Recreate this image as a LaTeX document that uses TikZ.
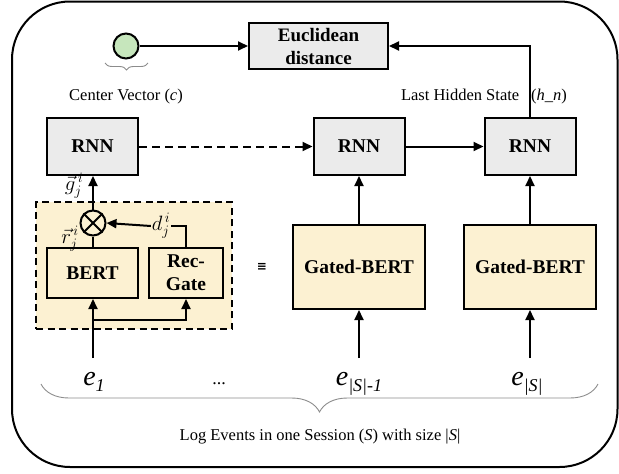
\documentclass[tikz,border=0pt]{standalone}
\usepackage{fontspec}
\setmainfont{Liberation Serif}
\newfontfamily\symbolfont{DejaVu Sans}
\usetikzlibrary{arrows.meta,decorations.pathreplacing}

\definecolor{rnngray}{RGB}{235,235,235}
\definecolor{bertyellow}{RGB}{252,241,210}
\definecolor{centergreen}{RGB}{198,230,188}
\definecolor{bracegray}{RGB}{140,140,140}

\newcommand{\lblfont}{\fontsize{16.5}{19}\selectfont}
\newcommand{\boldfont}{\fontsize{19.5}{23}\selectfont\bfseries}
\newcommand{\evfont}{\fontsize{28}{30}\selectfont\itshape}
\newcommand{\evsub}[1]{\raisebox{-6.5pt}{\fontsize{18}{18}\selectfont #1}}

\begin{document}
\begin{tikzpicture}[x=1pt,y=-1pt,
  line width=2pt,
  >={Triangle[length=10pt,width=9pt]},
  box/.style={draw, inner sep=0pt, align=center, font=\boldfont},
  rnnbox/.style={box, fill=rnngray, minimum width=91pt, minimum height=57pt},
  gatebox/.style={box, fill=bertyellow, minimum width=132pt, minimum height=84pt},
  innerbox/.style={box, fill=bertyellow, minimum height=50pt},
  lbl/.style={font=\lblfont, inner sep=0pt},
  evlbl/.style={font=\evfont, inner sep=0pt, anchor=base},
  sym/.style={inner sep=0pt, font=\fontsize{20}{20}\selectfont},
  bracedeco/.style={draw=bracegray, line width=0.9pt, decorate,
                    decoration={brace, mirror, amplitude=#1}},
]
\useasboundingbox (0,0) rectangle (619,474);

% outer frame
\draw[rounded corners=58pt] (12,1.5) rectangle (617.5,467);

% center vector and distance
\node[circle, draw, fill=centergreen, minimum size=25pt, inner sep=0pt] (cv) at (126,46) {};
\node[box, fill=rnngray, minimum width=139pt, minimum height=46pt,
      font=\fontsize{19}{23}\selectfont\bfseries] (euc) at (318.5,46) {Euclidean\\distance};
\draw[->] (cv) -- (euc);
\draw[bracedeco=7pt] (105,63) -- (148,63);
\node[lbl, anchor=base] (cvlbl) at (126,100) {Center Vector (\textit{c})};

% recurrent layer
\node[rnnbox] (rnn1) at (92.5,146.5) {RNN};
\node[rnnbox] (rnn2) at (359,146.5) {RNN};
\node[rnnbox] (rnn3) at (530,146.5) {RNN};
\draw[->, dash pattern=on 8pt off 5pt] (rnn1) -- (rnn2);
\draw[->] (rnn2) -- (rnn3);
\draw[->] (rnn3.north) |- (euc.east);
\node[lbl, anchor=base west] (hlbl) at (400,100) {Last Hidden State\hspace{12pt}(\textit{h\_n})};

% expanded gated BERT block
\node[draw, fill=bertyellow, dash pattern=on 7pt off 4.5pt, minimum width=196pt,
      minimum height=127pt, inner sep=0pt] (grp) at (134,265.5) {};
\node[innerbox, minimum width=91pt] (bert) at (92.5,273) {BERT};
\node[innerbox, minimum width=74pt] (rgate) at (186,273) {Rec-\\Gate};
\node[circle, draw, fill=bertyellow, minimum size=25pt, inner sep=0pt] (ot) at (93,223) {};
\draw (ot.north west) -- (ot.south east) (ot.north east) -- (ot.south west);
\draw (ot.south) -- (ot.south |- bert.north);
\draw[->] (ot.north) -- (ot.north |- rnn1.south);
\node[sym] (dlbl) at (161,226) {$d^{\,i}_{j}$};
\draw[->] (dlbl.west) -- (ot.east);
\draw (rgate.north) |- (dlbl.east);
\node[sym] (glbl) at (74,186) {$\vec{g}^{\,i}_{j}$};
\node[sym] (rlbl) at (70,239) {$\vec{r}^{\,i}_{j}$};
\coordinate (in1) at (93,358);
\coordinate (split) at (93,320);
\draw[->] (in1) -- (in1 |- bert.south);
\draw[->] (split) -| (rgate.south);

\node[inner sep=0pt, font=\fontsize{12}{12}\selectfont\symbolfont\bfseries] (eqv) at (262,267) {≡};

% gated BERT blocks
\node[gatebox] (gb1) at (359,267) {Gated-BERT};
\node[gatebox] (gb2) at (530,267) {Gated-BERT};
\draw[->] (gb1) -- (rnn2);
\draw[->] (gb2) -- (rnn3);
\coordinate (in2) at (359,358);
\coordinate (in3) at (530,358);
\draw[->] (in2) -- (gb1.south);
\draw[->] (in3) -- (gb2.south);

% log events
\node[evlbl] (e1) at (94,385) {e\evsub{1}};
\node[lbl, anchor=base, font=\fontsize{18}{18}\selectfont] (dots) at (219,384) {...};
\node[evlbl] (elast1) at (359,385) {e\evsub{|S|-1}};
\node[evlbl] (elast) at (527,385) {e\evsub{|S|}};
\draw[bracedeco=28pt] (41,384) -- (598,384);
\node[lbl, anchor=base] (loglbl) at (320,440) {Log Events in one Session (\textit{S}) with size |\textit{S}|};
\end{tikzpicture}
\end{document}
